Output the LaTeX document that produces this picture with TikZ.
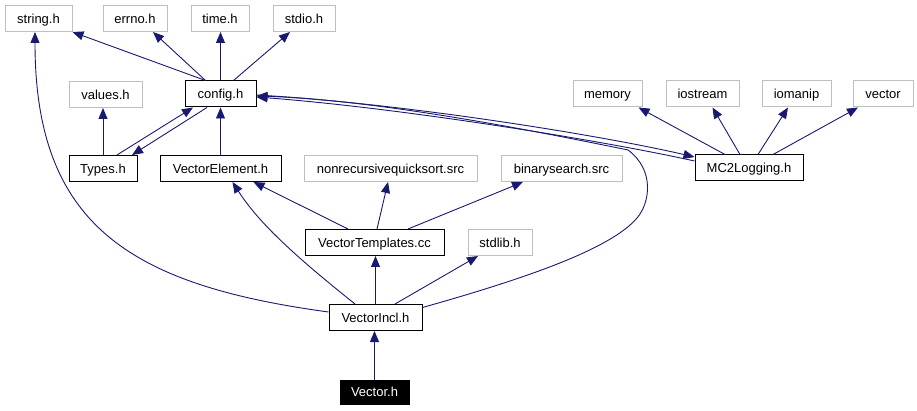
\documentclass[tikz,border=0pt]{standalone}
\usepackage{fontspec}
\setmainfont{Liberation Sans}
\usetikzlibrary{arrows.meta}
\definecolor{edgeblue}{HTML}{191970}
\definecolor{boxgray}{HTML}{BFBFBF}
\begin{document}
\begin{tikzpicture}[x=1pt,y=-1pt,
  base/.style={rectangle,inner sep=0pt,minimum height=26pt,text height=10.5pt,text depth=1pt,font=\fontsize{13}{15}\selectfont,line width=1pt},
  gbox/.style={base,draw=boxgray,fill=white,text=black},
  bbox/.style={base,draw=black,fill=white,text=black},
  fbox/.style={base,draw=black,fill=black,text=white},
  edge/.style={draw=edgeblue,line width=0.9pt,-{Triangle[length=11pt,width=9pt]}}]
\useasboundingbox (0,0) rectangle (917,411);
% row 1
\node[gbox,minimum width=67pt] (string) at (38.5,18.5) {string.h};
\node[gbox,minimum width=64pt] (errno) at (135,18.5) {errno.h};
\node[gbox,minimum width=58pt] (time) at (220,18.5) {time.h};
\node[gbox,minimum width=62pt] (stdio) at (304,18.5) {stdio.h};
% row 2
\node[gbox,minimum width=73pt] (values) at (105.5,94.5) {values.h};
\node[bbox,minimum width=71pt] (config) at (220.5,94) {config.h};
\node[gbox,minimum width=69pt] (memory) at (607.5,94) {memory};
\node[gbox,minimum width=73pt] (iostream) at (702.5,94) {iostream};
\node[gbox,minimum width=69pt] (iomanip) at (796.5,94) {iomanip};
\node[gbox,minimum width=60pt] (vector) at (883,94) {vector};
% row 3
\node[bbox,minimum width=68pt] (types) at (103,168.5) {Types.h};
\node[bbox,minimum width=121pt] (velem) at (220.5,168.5) {VectorElement.h};
\node[gbox,minimum width=173pt] (nonrec) at (390.5,168.5) {nonrecursivequicksort.src};
\node[gbox,minimum width=121pt] (binary) at (561.5,168.5) {binarysearch.src};
\node[bbox,minimum width=108pt] (mc2) at (749,168) {MC2Logging.h};
% row 4
\node[bbox,minimum width=139pt] (vt) at (374.5,242.5) {VectorTemplates.cc};
\node[gbox,minimum width=64pt] (stdlib) at (500,242.5) {stdlib.h};
% row 5
\node[bbox,minimum width=93pt] (vi) at (375.5,317.5) {VectorIncl.h};
% row 6
\node[fbox,minimum width=69pt,minimum height=24pt] (vec) at (374.5,392) {Vector.h};
% edges from config.h
\draw[edge] ([xshift=-15pt]config.north) -- ([xshift=34pt]string.south);
\draw[edge] ([xshift=-15pt]config.north) -- ([xshift=18pt]errno.south);
\draw[edge] (config.north) -- (config.north |- time.south);
\draw[edge] ([xshift=13pt]config.north) -- ([xshift=-14pt]stdio.south);
\draw[edge] ([xshift=-13.5pt]config.south) -- ([xshift=29pt]types.north);
\draw[edge] ([yshift=-1pt]config.east) .. controls (400,103) and (600,135) .. ([yshift=11pt]mc2.west);
% Types.h
\draw[edge] (types.north) -- (types.north |- values.south);
\draw[edge] ([xshift=14pt]types.north) -- ([xshift=-27.5pt]config.south);
% VectorElement.h
\draw[edge] (velem.north) -- (config.south);
% MC2Logging.h
\draw[edge] ([yshift=7pt]mc2.west) .. controls (600,140) and (400,108) .. ([yshift=-3pt]config.east);
\draw[edge] ([xshift=-24pt]mc2.north) -- ([xshift=31pt]memory.south);
\draw[edge] ([xshift=-9pt]mc2.north) -- ([xshift=10pt]iostream.south);
\draw[edge] ([xshift=9pt]mc2.north) -- ([xshift=-8.5pt]iomanip.south);
\draw[edge] ([xshift=24pt]mc2.north) -- ([xshift=-25pt]vector.south);
% VectorTemplates.cc
\draw[edge] ([xshift=-26.5pt]vt.north) -- ([xshift=33pt]velem.south);
\draw[edge] ([xshift=2.5pt]vt.north) -- ([xshift=-2.5pt]nonrec.south);
\draw[edge] ([xshift=33.5pt]vt.north) -- ([xshift=-38.5pt]binary.south);
% VectorIncl.h
\draw[edge] (vi.north) -- (vi.north |- vt.south);
\draw[edge] ([xshift=19.5pt]vi.north) -- ([xshift=-22pt]stdlib.south);
\draw[edge] ([xshift=-20.5pt]vi.north) .. controls (300,260) and (260,225) .. ([xshift=12pt]velem.south);
\draw[edge] ([yshift=5.5pt]vi.west) .. controls (130,285) and (35,225) .. ([xshift=-3.5pt]string.south);
\draw[edge] ([yshift=10pt]vi.east) .. controls (520,280) and (610,250) .. (637,218)
  .. controls (650,203) and (655,170) .. (628,150)
  .. controls (540,132) and (380,100) .. ([yshift=-2pt]config.east);
% Vector.h
\draw[edge] (vec.north) -- (vec.north |- vi.south);
\end{tikzpicture}
\end{document}
